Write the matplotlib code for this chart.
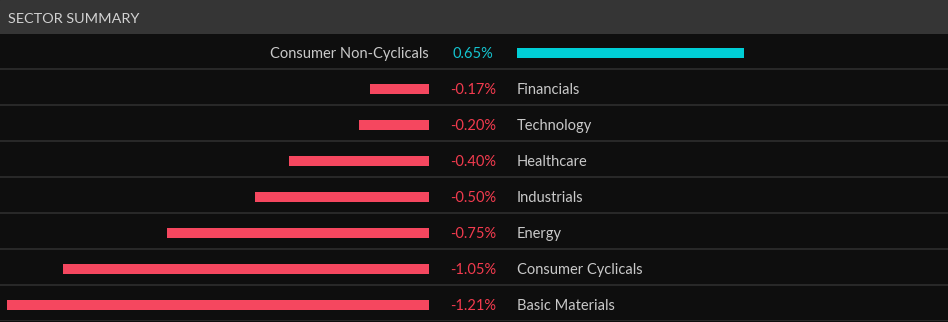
import matplotlib
matplotlib.use("Agg")
import matplotlib.pyplot as plt
from matplotlib.transforms import offset_copy

title = "SECTOR SUMMARY"
sectors = ["Consumer Non-Cyclicals", "Financials", "Technology", "Healthcare",
           "Industrials", "Energy", "Consumer Cyclicals", "Basic Materials"]
changes = [0.65, -0.17, -0.20, -0.40, -0.50, -0.75, -1.05, -1.21]

W, H = 948, 322
DPI = 100
plt.rcParams['font.family'] = ['Lato', 'DejaVu Sans']

BG = "#0e0e0e"
HEADER = "#353535"
SEP = "#2b2b2b"
POS = "#00ced6"
NEG = "#f5475f"
POS_TXT = "#14c3cf"
NEG_TXT = "#f23b4e"
LABEL = "#c9c9c9"

fig = plt.figure(figsize=(W / DPI, H / DPI), dpi=DPI, facecolor=BG)

# header band
hdr = fig.add_axes([0, 1 - 33.5 / H, 1, 33.5 / H])
hdr.set_axis_off()
hdr.add_patch(plt.Rectangle((0, 0), 1, 1, transform=hdr.transAxes, color=HEADER))
hdr.text(8 / W, 0.42, title, transform=hdr.transAxes, color="#d2d2d2",
         fontsize=10.4, va="center", ha="left")

px_per_pct = 349.0
left_edge = 429
right_start = 517
body_top = 33
body_h = H - body_top - 1  # 288
n = len(sectors)
shift = 1.5  # px downward for bars

axL = fig.add_axes([0, (1 - shift) / H, left_edge / W, body_h / H])
axR = fig.add_axes([right_start / W, (1 - shift) / H, (W - right_start) / W, body_h / H])
axL.set_xlim(-left_edge / px_per_pct, 0)
axR.set_xlim(0, (W - right_start) / px_per_pct)

# full-width separator axes
axS = fig.add_axes([0, 1 / H, 1, body_h / H])
axS.set_xlim(0, 1)
axS.set_ylim(n - 0.5, -0.5)
axS.set_axis_off()
axS.set_zorder(-1)
axS.set_facecolor(BG)
for i in range(n):
    axS.axhline(i + 0.5, color=SEP, lw=1.3)

for ax in (axL, axR):
    ax.set_ylim(n - 0.5, -0.5)
    ax.set_axis_off()
    ax.patch.set_alpha(0)

ypos = list(range(n))
neg_vals = [v if v < 0 else 0 for v in changes]
pos_vals = [v if v > 0 else 0 for v in changes]
bar_h = 10 / 36
axL.barh(ypos, neg_vals, height=bar_h, color=NEG, left=0)
axR.barh(ypos, pos_vals, height=bar_h, color=POS, left=0)

trL = offset_copy(axL.transData, fig=fig, x=0, y=-1.5, units="dots")
trR = offset_copy(axR.transData, fig=fig, x=0, y=-1.5, units="dots")
trS = offset_copy(axS.transData, fig=fig, x=0, y=-3, units="dots")

mid_x = (left_edge + right_start) / 2 / W
for i, (s, v) in enumerate(zip(sectors, changes)):
    if v >= 0:
        axL.text(0, i, s, ha="right", va="center", color=LABEL, fontsize=10.5, transform=trL)
        col = POS_TXT
    else:
        axR.text(0, i, s, ha="left", va="center", color=LABEL, fontsize=10.5, transform=trR)
        col = NEG_TXT
    axS.text(mid_x, i, f"{v:.2f}%", ha="center", va="center", color=col,
             fontsize=10.5, transform=trS)

fig.savefig("out.png", dpi=DPI, facecolor=BG)
